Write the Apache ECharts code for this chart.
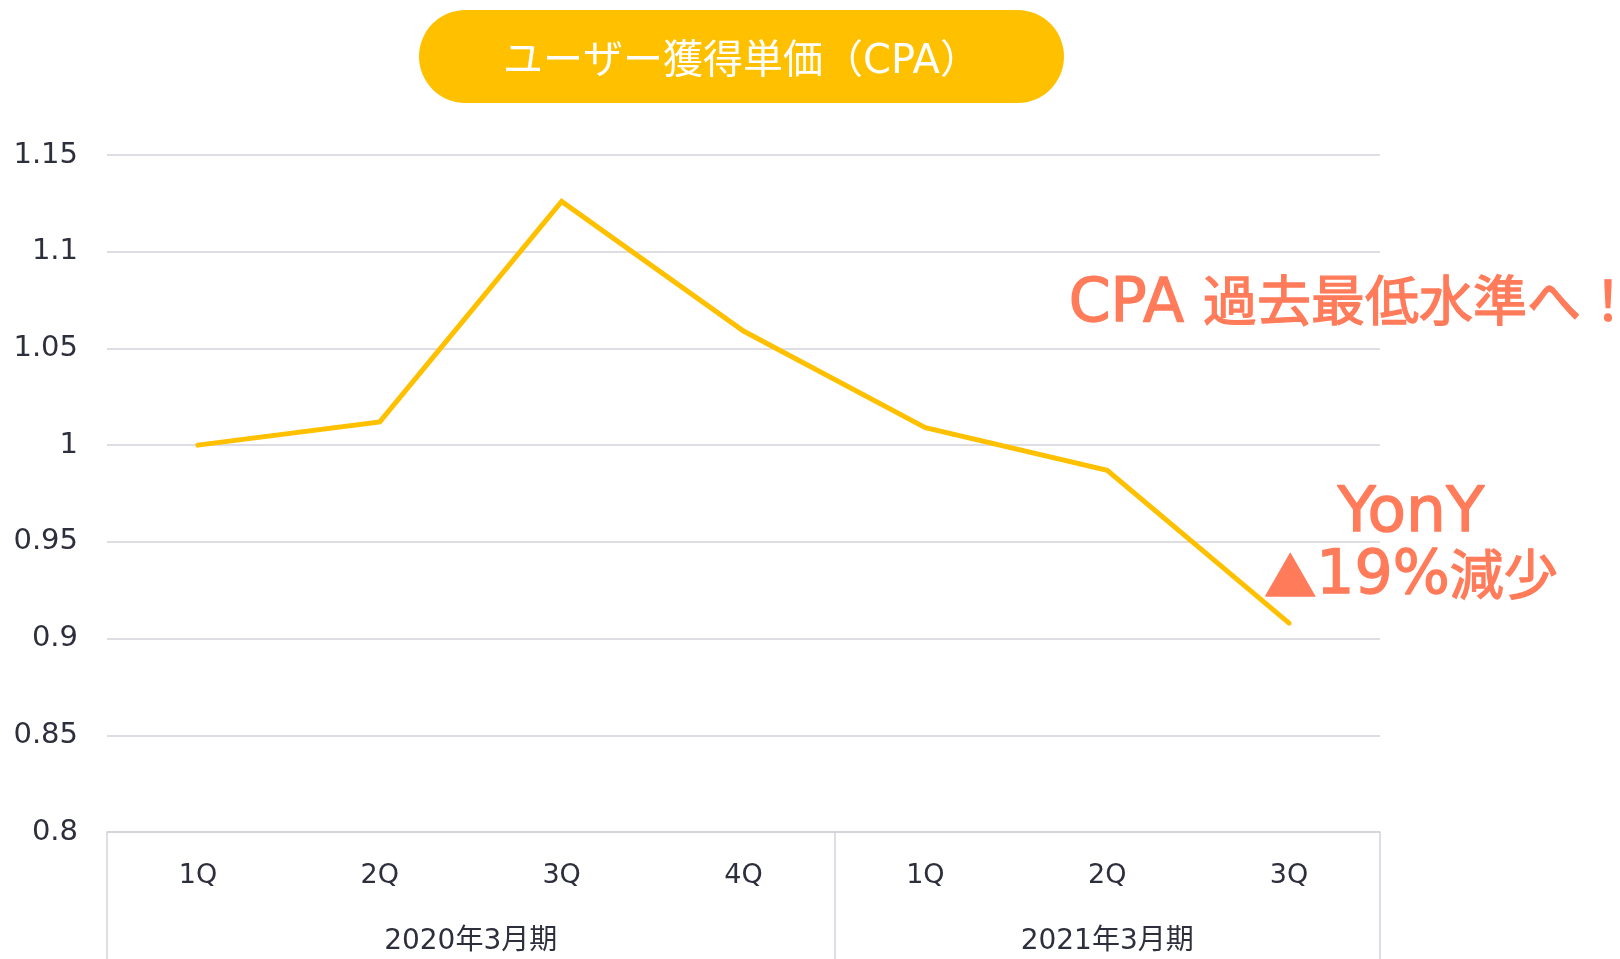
<!DOCTYPE html>
<html>
<head>
<meta charset="utf-8">
<script src="https://cdn.jsdelivr.net/npm/echarts@6/dist/echarts.min.js"></script>
<style>
  html, body { margin: 0; padding: 0; background: #ffffff; }
  #chart { width: 1620px; height: 959px; }
</style>
</head>
<body>
<div id="chart"></div>
<script>
// Quarterly user acquisition cost (CPA), indexed to 2020/3 1Q = 1
const quarters = ['1Q', '2Q', '3Q', '4Q', '1Q', '2Q', '3Q'];
const cpaIndex = [1.000, 1.012, 1.126, 1.059, 1.009, 0.987, 0.908];

// Fiscal-year groups under the quarter labels
const fiscalYears = ['2020年3月期', '2021年3月期'];
const quartersPerYear = [4, 3];

// Y axis range
const yMin = 0.8;
const yMax = 1.15;
const yStep = 0.05;

const chartTitle = 'ユーザー獲得単価（CPA）';
const headline = ['CPA', '過去最低水準へ！'];
const yoyLine1 = 'YonY';
const yoyLine2 = ['▲', '19%', '減少'];

const LATIN = '"DejaVu Sans", "Noto Sans CJK JP", sans-serif';
const CJK = '"Noto Sans CJK JP", "DejaVu Sans", sans-serif';
const GOLD = '#FFC000';
const CORAL = '#FF7B5A';
const INK = '#2E2F3C';
const RULE = '#D2D2DA';

// group boundaries and centers in category-band units
const boundaries = [0];
const centers = [];
quartersPerYear.forEach(n => {
  const start = boundaries[boundaries.length - 1];
  centers.push(start + n / 2);
  boundaries.push(start + n);
});

// slightly heavier callout lettering
const callout = (size, family) => ({
  fontSize: size, fontFamily: family, fill: CORAL, stroke: CORAL, lineWidth: 1.3
});

const chart = echarts.init(document.getElementById('chart'));

chart.setOption({
  animation: false,
  backgroundColor: '#ffffff',
  grid: { left: 107, right: 240, top: 155, bottom: 127, containLabel: false },
  xAxis: [
    {
      type: 'category',
      data: quarters,
      boundaryGap: true,
      axisLine: { show: true, lineStyle: { color: RULE, width: 1.5 } },
      axisTick: { show: false },
      axisLabel: { color: INK, fontSize: 27, fontFamily: LATIN, margin: 30 },
      splitLine: { show: false }
    },
    {
      type: 'value',
      position: 'bottom',
      min: 0,
      max: boundaries[boundaries.length - 1],
      axisLine: { show: false },
      axisTick: {
        show: true,
        customValues: boundaries,
        length: 130,
        lineStyle: { color: RULE, width: 1.5 }
      },
      axisLabel: {
        customValues: centers,
        color: INK,
        fontSize: 28,
        fontFamily: LATIN,
        margin: 96,
        formatter: v => fiscalYears[centers.indexOf(v)] || ''
      },
      splitLine: { show: false }
    }
  ],
  yAxis: {
    type: 'value',
    min: yMin,
    max: yMax,
    interval: yStep,
    axisLine: { show: false },
    axisTick: { show: false },
    axisLabel: {
      color: INK, fontSize: 29, fontFamily: LATIN, margin: 29,
      padding: [10, 0, 0, 0]
    },
    splitLine: { lineStyle: { color: RULE, width: 1.5 } }
  },
  series: [
    {
      type: 'line',
      xAxisIndex: 0,
      data: cpaIndex,
      showSymbol: false,
      lineStyle: { color: GOLD, width: 5, cap: 'round', join: 'miter' },
      itemStyle: { color: GOLD }
    }
  ],
  graphic: [
    {
      type: 'rect',
      left: 419,
      top: 10,
      shape: { width: 645, height: 93, r: 46.5 },
      style: { fill: GOLD },
      textContent: {
        style: {
          text: chartTitle,
          fill: '#ffffff',
          fontSize: 40,
          fontFamily: LATIN
        }
      },
      textConfig: { position: 'inside', offset: [0, 6] }
    },
    {
      type: 'text',
      left: 1068,
      top: 273,
      style: {
        text: '{a|' + headline[0] + ' }{b|' + headline[1] + '}',
        rich: {
          a: callout(60, LATIN),
          b: Object.assign(callout(54, CJK), { padding: [0, 0, 10, 0] })
        }
      }
    },
    {
      type: 'text',
      x: 1411,
      y: 515,
      style: Object.assign(callout(63, LATIN), {
        text: yoyLine1,
        align: 'center',
        verticalAlign: 'middle'
      })
    },
    {
      type: 'text',
      x: 1411,
      y: 577,
      style: {
        text: '{t|' + yoyLine2[0] + '}{a|' + yoyLine2[1] + '}{b|' + yoyLine2[2] + '}',
        align: 'center',
        verticalAlign: 'middle',
        rich: {
          t: callout(52, CJK),
          a: callout(60, LATIN),
          b: Object.assign(callout(54, CJK), { padding: [0, 0, 6, 0] })
        }
      }
    }
  ]
});
</script>
</body>
</html>
